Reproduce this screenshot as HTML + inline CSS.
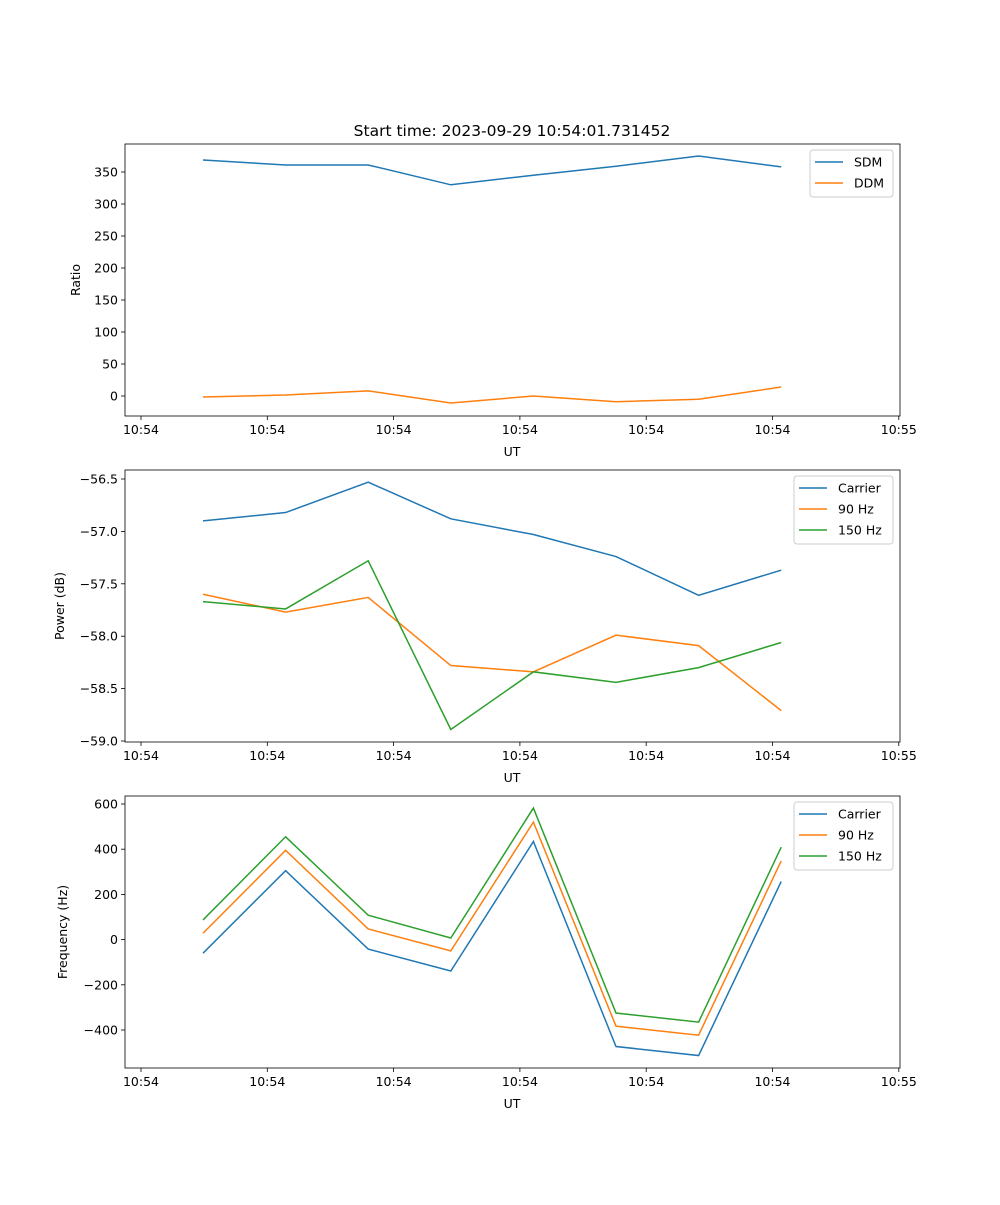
<!DOCTYPE html>
<html><head><meta charset="utf-8"><style>
body{margin:0;background:#fff}
svg text{font-family:"DejaVu Sans","Liberation Sans",sans-serif;fill:#000}
</style></head><body>
<svg id="fig" width="1000" height="1200" xmlns="http://www.w3.org/2000/svg">
<rect width="1000" height="1200" fill="#fff"/>
<text x="512" y="136" font-size="15.5" text-anchor="middle">Start time: 2023-09-29 10:54:01.731452</text>
</svg>
<script>
const xIndex=[0,1,2,3,4,5,6,7];
const xTickLabels=["10:54","10:54","10:54","10:54","10:54","10:54","10:55"];
const sdm=[368.7,361,361,330,345,359,375,358];
const ddm=[-1.5,1.5,8,-11,0,-9,-5,14];
const pCarrier=[-56.90,-56.82,-56.53,-56.88,-57.03,-57.24,-57.61,-57.37];
const p90=[-57.60,-57.77,-57.63,-58.28,-58.34,-57.99,-58.09,-58.71];
const p150=[-57.67,-57.74,-57.28,-58.89,-58.34,-58.44,-58.30,-58.06];
const fCarrier=[-60,305,-42,-139,434,-473,-513,257];
const f90=[28,395,47,-50,520,-383,-423,348];
const f150=[87,455,108,7,582,-325,-365,409];
const ratioTicks=[0,50,100,150,200,250,300,350];
const powerTicks=[-59.0,-58.5,-58.0,-57.5,-57.0,-56.5];
const freqTicks=[-400,-200,0,200,400,600];

const NS="http://www.w3.org/2000/svg";
const svg=document.getElementById('fig');
function mk(t,a,p){const e=document.createElementNS(NS,t);for(const k in a)e.setAttribute(k,a[k]);(p||svg).appendChild(e);return e;}
const L=125,R=900,FS=12.5;
function xScale(i){return 203+i*82.6;}
function xTickPos(j){return 141+j*126.3;}
function panel(name,top,bot,yv0,yp0,yv1,yp1,ticks,fmt,ylabel,series,legend){
  const g=mk('g',{});
  
  
  const y=v=>yp0+(v-yv0)*(yp1-yp0)/(yv1-yv0);
  series.forEach(s=>{
    const pl=mk('polyline',{points:s.d.map((v,i)=>xScale(xIndex[i])+','+y(v)).join(' '),fill:'none',stroke:s.c,'stroke-width':1.5},g);
    
    
  });
  const fr=mk('rect',{x:L,y:top,width:R-L,height:bot-top,fill:'none',stroke:'#000','stroke-width':0.8},g);
  
  
  xTickLabels.forEach((t,j)=>{const x=xTickPos(j);
    mk('line',{x1:x,x2:x,y1:bot,y2:bot+4,stroke:'#000','stroke-width':0.8},g);
    const tx=mk('text',{x:x,y:bot+18,'font-size':FS,'text-anchor':'middle'},g);tx.textContent=t;
    
    
  });
  const xl=mk('text',{x:512,y:bot+40,'font-size':FS,'text-anchor':'middle'},g);xl.textContent='UT';
  
  
  ticks.forEach(v=>{const yy=y(v);
    mk('line',{x1:L-4,x2:L,y1:yy,y2:yy,stroke:'#000','stroke-width':0.8},g);
    const tx=mk('text',{x:L-7,y:yy+4.5,'font-size':FS,'text-anchor':'end'},g);tx.textContent=fmt(v);
    
    
  });
  const yl=mk('text',{x:0,y:0,'font-size':FS,'text-anchor':'middle',transform:`translate(${legend.yl},${(top+bot)/2}) rotate(-90)`},g);yl.textContent=ylabel;
  
  
  const lg=mk('g',{},g);
  
  
  mk('rect',{x:legend.x,y:top+6,width:R-7-legend.x,height:series.length*21+5,fill:'#fff',stroke:'#ccc',rx:3},lg);
  series.forEach((s,i)=>{const yy=top+18+i*21;
    mk('line',{x1:legend.x+5,x2:legend.x+33,y1:yy,y2:yy,stroke:s.c,'stroke-width':1.5},lg);
    const tx=mk('text',{x:legend.x+44,y:yy+4.5,'font-size':FS},lg);tx.textContent=s.n;
    
    
  });
}
const fmtM=v=>(v<0?'\u2212':'')+Math.abs(v);
panel('ratio-panel',144,416,0,396,350,172,ratioTicks,v=>String(v),'Ratio',
 [{n:'SDM',d:sdm,c:'#1f77b4'},{n:'DDM',d:ddm,c:'#ff7f0e'}],{x:810,yl:80});
panel('power-panel',470,742,-56.5,479,-59.0,741,powerTicks,v=>(v<0?'\u2212':'')+Math.abs(v).toFixed(1),'Power (dB)',
 [{n:'Carrier',d:pCarrier,c:'#1f77b4'},{n:'90 Hz',d:p90,c:'#ff7f0e'},{n:'150 Hz',d:p150,c:'#2ca02c'}],{x:794,yl:64});
panel('frequency-panel',796,1068,600,804,-400,1030,freqTicks,fmtM,'Frequency (Hz)',
 [{n:'Carrier',d:fCarrier,c:'#1f77b4'},{n:'90 Hz',d:f90,c:'#ff7f0e'},{n:'150 Hz',d:f150,c:'#2ca02c'}],{x:794,yl:67});
</script>
</body></html>
